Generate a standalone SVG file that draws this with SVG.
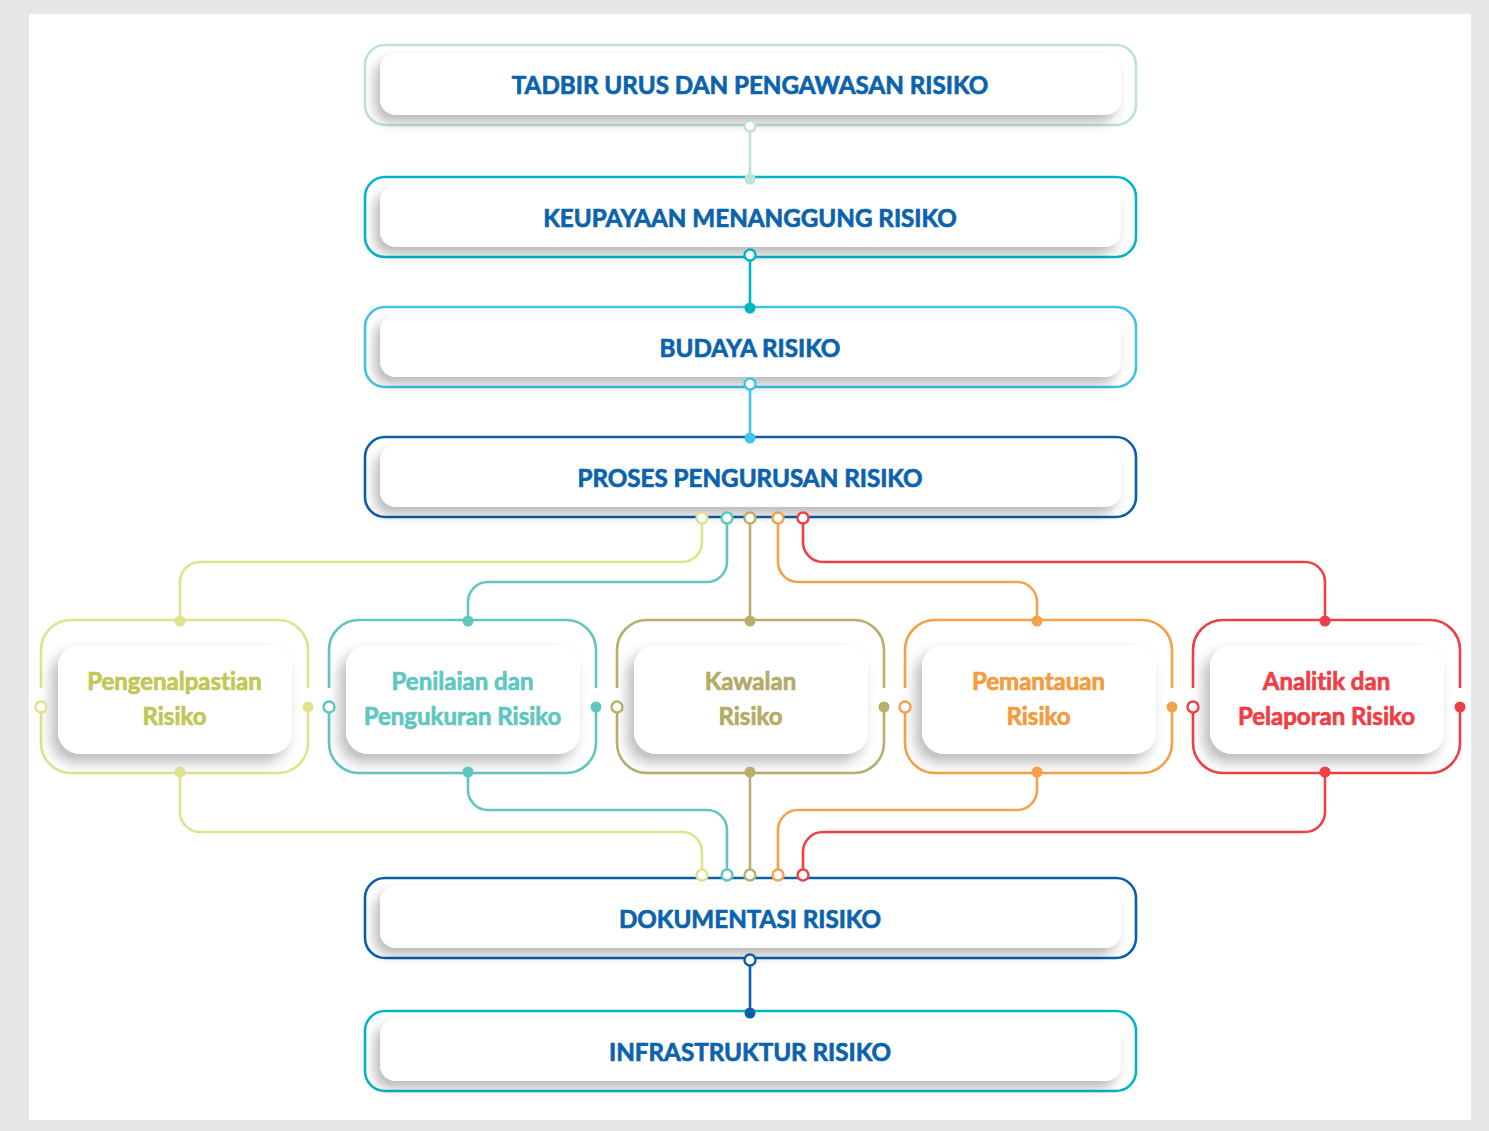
<svg xmlns="http://www.w3.org/2000/svg" width="1489" height="1131" viewBox="0 0 1489 1131">
<defs>
<filter id="sh" x="-10%" y="-30%" width="120%" height="170%">
<feDropShadow dx="-5" dy="7" stdDeviation="6" flood-color="#000" flood-opacity="0.28"/>
</filter>
<filter id="sh2" x="-20%" y="-20%" width="140%" height="150%">
<feDropShadow dx="-6" dy="8" stdDeviation="7" flood-color="#000" flood-opacity="0.28"/>
</filter>
<style>
.card{fill:#fff;filter:url(#sh)}
.card2{fill:#fff;filter:url(#sh2)}
.ol{fill:none;stroke-width:2.6}
.mt{font-family:Lato,"Liberation Sans",sans-serif;font-weight:700;font-size:24.2px;fill:#0b63ad;stroke:#0b63ad;stroke-width:0.7;text-anchor:middle;font-variant-ligatures:none}
.st{font-family:Lato,"Liberation Sans",sans-serif;font-weight:700;font-size:24px;stroke-width:0.7;text-anchor:middle;font-variant-ligatures:none}
.cn{fill:none;stroke-width:2.6}
.o{fill:#fff;stroke-width:2.4}
</style>
</defs>
<rect x="0" y="0" width="1489" height="1131" fill="#e6e7e8"/>
<rect x="29" y="14" width="1442" height="1106" fill="#fff"/>

<g id="node-tadbir">
<rect class="ol" x="365" y="45" width="771" height="80" rx="20" stroke="#bde2dc"/>
<rect class="card" x="380" y="53" width="741" height="62" rx="16"/>
<text class="mt" x="750" y="94">TADBIR URUS DAN PENGAWASAN RISIKO</text>
</g>
<g id="node-keupayaan">
<rect class="ol" x="365" y="177" width="771" height="80" rx="20" stroke="#00b6c5"/>
<rect class="card" x="380" y="185" width="741" height="62" rx="16"/>
<text class="mt" x="750" y="227">KEUPAYAAN MENANGGUNG RISIKO</text>
</g>
<g id="node-budaya">
<rect class="ol" x="365" y="307" width="771" height="80" rx="20" stroke="#41c3e9"/>
<rect class="card" x="380" y="315" width="741" height="62" rx="16"/>
<text class="mt" x="750" y="357">BUDAYA RISIKO</text>
</g>
<g id="node-proses">
<rect class="ol" x="365" y="437" width="771" height="80" rx="20" stroke="#0b5fa9"/>
<rect class="card" x="380" y="445" width="741" height="62" rx="16"/>
<text class="mt" x="750" y="487">PROSES PENGURUSAN RISIKO</text>
</g>
<g id="node-dokumentasi">
<rect class="ol" x="365" y="878" width="771" height="80" rx="20" stroke="#0b5fa9"/>
<rect class="card" x="380" y="886" width="741" height="62" rx="16"/>
<text class="mt" x="750" y="928">DOKUMENTASI RISIKO</text>
</g>
<g id="node-infrastruktur">
<rect class="ol" x="365" y="1011" width="771" height="80" rx="20" stroke="#00b6c5"/>
<rect class="card" x="380" y="1019" width="741" height="62" rx="16"/>
<text class="mt" x="750" y="1061">INFRASTRUKTUR RISIKO</text>
</g>

<g id="node-pengenalpastian" transform="translate(41,0)">
<path class="ol" stroke="#dfe28f" d="M0,688 V650 A30,30 0 0 1 30,620 H237 A30,30 0 0 1 267,650 V688"/>
<path class="ol" stroke="#dfe28f" d="M0,712 V743 A30,30 0 0 0 30,773 H237 A30,30 0 0 0 267,743 V707"/>
<rect class="card2" x="17" y="645" width="234" height="109" rx="22"/>
<text class="st" x="133.5" y="690" fill="#c1c755" stroke="#c1c755">Pengenalpastian</text>
<text class="st" x="133.5" y="725" fill="#c1c755" stroke="#c1c755">Risiko</text>
<circle class="o" cx="0" cy="707" r="5.5" stroke="#dfe28f"/>
<circle cx="267" cy="707" r="5.5" fill="#dfe28f"/>
</g>
<g id="node-penilaian" transform="translate(329,0)">
<path class="ol" stroke="#5fc7c0" d="M0,688 V650 A30,30 0 0 1 30,620 H237 A30,30 0 0 1 267,650 V688"/>
<path class="ol" stroke="#5fc7c0" d="M0,712 V743 A30,30 0 0 0 30,773 H237 A30,30 0 0 0 267,743 V707"/>
<rect class="card2" x="17" y="645" width="234" height="109" rx="22"/>
<text class="st" x="133.5" y="690" fill="#5fc7c0" stroke="#5fc7c0">Penilaian dan</text>
<text class="st" x="133.5" y="725" fill="#5fc7c0" stroke="#5fc7c0">Pengukuran Risiko</text>
<circle class="o" cx="0" cy="707" r="5.5" stroke="#5fc7c0"/>
<circle cx="267" cy="707" r="5.5" fill="#5fc7c0"/>
</g>
<g id="node-kawalan" transform="translate(617,0)">
<path class="ol" stroke="#b8ae6d" d="M0,688 V650 A30,30 0 0 1 30,620 H237 A30,30 0 0 1 267,650 V688"/>
<path class="ol" stroke="#b8ae6d" d="M0,712 V743 A30,30 0 0 0 30,773 H237 A30,30 0 0 0 267,743 V707"/>
<rect class="card2" x="17" y="645" width="234" height="109" rx="22"/>
<text class="st" x="133.5" y="690" fill="#b5ab69" stroke="#b5ab69">Kawalan</text>
<text class="st" x="133.5" y="725" fill="#b5ab69" stroke="#b5ab69">Risiko</text>
<circle class="o" cx="0" cy="707" r="5.5" stroke="#b8ae6d"/>
<circle cx="267" cy="707" r="5.5" fill="#b8ae6d"/>
</g>
<g id="node-pemantauan" transform="translate(905,0)">
<path class="ol" stroke="#f4a24a" d="M0,688 V650 A30,30 0 0 1 30,620 H237 A30,30 0 0 1 267,650 V688"/>
<path class="ol" stroke="#f4a24a" d="M0,712 V743 A30,30 0 0 0 30,773 H237 A30,30 0 0 0 267,743 V707"/>
<rect class="card2" x="17" y="645" width="234" height="109" rx="22"/>
<text class="st" x="133.5" y="690" fill="#f39b3d" stroke="#f39b3d">Pemantauan</text>
<text class="st" x="133.5" y="725" fill="#f39b3d" stroke="#f39b3d">Risiko</text>
<circle class="o" cx="0" cy="707" r="5.5" stroke="#f4a24a"/>
<circle cx="267" cy="707" r="5.5" fill="#f4a24a"/>
</g>
<g id="node-analitik" transform="translate(1193,0)">
<path class="ol" stroke="#ee3f46" d="M0,688 V650 A30,30 0 0 1 30,620 H237 A30,30 0 0 1 267,650 V688"/>
<path class="ol" stroke="#ee3f46" d="M0,712 V743 A30,30 0 0 0 30,773 H237 A30,30 0 0 0 267,743 V707"/>
<rect class="card2" x="17" y="645" width="234" height="109" rx="22"/>
<text class="st" x="133.5" y="690" fill="#ee3f46" stroke="#ee3f46">Analitik dan</text>
<text class="st" x="133.5" y="725" fill="#ee3f46" stroke="#ee3f46">Pelaporan Risiko</text>
<circle class="o" cx="0" cy="707" r="5.5" stroke="#ee3f46"/>
<circle cx="267" cy="707" r="5.5" fill="#ee3f46"/>
</g>

<g id="connectors">
<line class="cn" x1="750" y1="131" x2="750" y2="179" stroke="#bde2dc"/>
<circle class="o" cx="750" cy="126" r="5.5" stroke="#bde2dc"/>
<circle cx="750" cy="179" r="5.5" fill="#bde2dc"/>
<line class="cn" x1="750" y1="260" x2="750" y2="308" stroke="#00b6c5"/>
<circle class="o" cx="750" cy="255" r="5.5" stroke="#00b6c5"/>
<circle cx="750" cy="308" r="5.5" fill="#00b6c5"/>
<line class="cn" x1="750" y1="389" x2="750" y2="438" stroke="#41c3e9"/>
<circle class="o" cx="750" cy="384" r="5.5" stroke="#41c3e9"/>
<circle cx="750" cy="438" r="5.5" fill="#41c3e9"/>
<line class="cn" x1="750" y1="965" x2="750" y2="1013" stroke="#0b5fa9"/>
<circle class="o" cx="750" cy="960" r="5.5" stroke="#0b5fa9"/>
<circle cx="750" cy="1013" r="5.5" fill="#0b5fa9"/>

<path class="cn" stroke="#dfe28f" d="M702,523 V542 A20,20 0 0 1 682,562 H200 A20,20 0 0 0 180,582 V621"/>
<path class="cn" stroke="#5fc7c0" d="M727,523 V562 A20,20 0 0 1 707,582 H488 A20,20 0 0 0 468,602 V621"/>
<path class="cn" stroke="#b8ae6d" d="M750,523 V621"/>
<path class="cn" stroke="#f4a24a" d="M778,523 V562 A20,20 0 0 0 798,582 H1017 A20,20 0 0 1 1037,602 V621"/>
<path class="cn" stroke="#ee3f46" d="M803,523 V542 A20,20 0 0 0 823,562 H1305 A20,20 0 0 1 1325,582 V621"/>
<circle class="o" cx="702" cy="518" r="5.5" stroke="#dfe28f"/>
<circle class="o" cx="727" cy="518" r="5.5" stroke="#5fc7c0"/>
<circle class="o" cx="750" cy="518" r="5.5" stroke="#b8ae6d"/>
<circle class="o" cx="778" cy="518" r="5.5" stroke="#f4a24a"/>
<circle class="o" cx="803" cy="518" r="5.5" stroke="#ee3f46"/>
<circle cx="180" cy="621" r="5.5" fill="#dfe28f"/>
<circle cx="468" cy="621" r="5.5" fill="#5fc7c0"/>
<circle cx="750" cy="621" r="5.5" fill="#b8ae6d"/>
<circle cx="1037" cy="621" r="5.5" fill="#f4a24a"/>
<circle cx="1325" cy="621" r="5.5" fill="#ee3f46"/>

<path class="cn" stroke="#dfe28f" d="M180,772 V812 A20,20 0 0 0 200,832 H682 A20,20 0 0 1 702,852 V870"/>
<path class="cn" stroke="#5fc7c0" d="M468,772 V790 A20,20 0 0 0 488,810 H707 A20,20 0 0 1 727,830 V870"/>
<path class="cn" stroke="#b8ae6d" d="M750,772 V870"/>
<path class="cn" stroke="#f4a24a" d="M1037,772 V790 A20,20 0 0 1 1017,810 H798 A20,20 0 0 0 778,830 V870"/>
<path class="cn" stroke="#ee3f46" d="M1325,772 V812 A20,20 0 0 1 1305,832 H823 A20,20 0 0 0 803,852 V870"/>
<circle cx="180" cy="772" r="5.5" fill="#dfe28f"/>
<circle cx="468" cy="772" r="5.5" fill="#5fc7c0"/>
<circle cx="750" cy="772" r="5.5" fill="#b8ae6d"/>
<circle cx="1037" cy="772" r="5.5" fill="#f4a24a"/>
<circle cx="1325" cy="772" r="5.5" fill="#ee3f46"/>
<circle class="o" cx="702" cy="875" r="5.5" stroke="#dfe28f"/>
<circle class="o" cx="727" cy="875" r="5.5" stroke="#5fc7c0"/>
<circle class="o" cx="750" cy="875" r="5.5" stroke="#b8ae6d"/>
<circle class="o" cx="778" cy="875" r="5.5" stroke="#f4a24a"/>
<circle class="o" cx="803" cy="875" r="5.5" stroke="#ee3f46"/>
</g>
</svg>
